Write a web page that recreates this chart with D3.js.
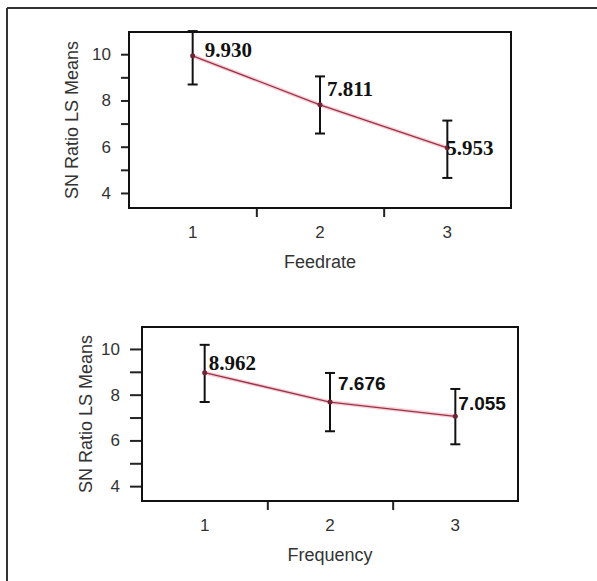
<!DOCTYPE html>
<html>
<head>
<meta charset="utf-8">
<script src="https://cdn.jsdelivr.net/npm/d3@7/dist/d3.min.js"></script>
<style>
  body { margin: 0; background: #fff; }
  svg { display: block; }
</style>
</head>
<body>
<svg id="chart" width="597" height="581"></svg>
<script>
// data
const levels = [1, 2, 3];
const feedrateMeans = [9.930, 7.811, 5.953];
const feedrateLower = [8.69, 6.57, 4.65];
const feedrateUpper = [11.0, 9.04, 7.13];
const frequencyMeans = [8.962, 7.676, 7.055];
const frequencyLower = [7.68, 6.40, 5.83];
const frequencyUpper = [10.18, 8.95, 8.25];
const yTicks = [4, 6, 8, 10];
const yMinorTicks = [5, 7, 9];
const xTicks = [1.5, 2.5];
const yTitle = "SN Ratio LS Means";

const svg = d3.select("#chart");
const sans = "Arial, 'Liberation Sans', sans-serif";

// outer frame (only top and left edge show in the picture)
svg.append("line").attr("x1", 7).attr("x2", 597).attr("y1", 8).attr("y2", 8)
  .attr("stroke", "#333").attr("stroke-width", 2);
svg.append("line").attr("x1", 7).attr("x2", 7).attr("y1", 8).attr("y2", 581)
  .attr("stroke", "#333").attr("stroke-width", 2);

const panels = [
  {
    title: "Feedrate", means: feedrateMeans, lower: feedrateLower, upper: feedrateUpper,
    left: 129, right: 511, top: 32, bottom: 208, tick: 8, yTitleX: 72,
    labelDx: [12, 7, -1], labelDy: [1, -9, 7],
    labelFont: ["Liberation Serif", "Liberation Serif", "Liberation Serif"], labelSize: [21, 21, 21]
  },
  {
    title: "Frequency", means: frequencyMeans, lower: frequencyLower, upper: frequencyUpper,
    left: 142, right: 518, top: 327, bottom: 501, tick: 12, yTitleX: 86,
    labelDx: [4, 8, 3], labelDy: [-3, -12, -6],
    labelFont: ["Liberation Serif", "Liberation Sans", "Liberation Sans"], labelSize: [21, 19, 19]
  }
];

panels.forEach(p => {
  const x = d3.scaleLinear().domain([0.5, 3.5]).range([p.left, p.right]);
  const y = d3.scaleLinear().domain([3.35, 10.96]).range([p.bottom, p.top]);
  const g = svg.append("g");

  // y axis: labelled majors plus unlabelled minors
  const yAxis = d3.axisLeft(y).tickValues(yTicks.concat(yMinorTicks))
    .tickSize(p.tick).tickPadding(10)
    .tickFormat(d => yTicks.includes(d) ? d : "");
  const ya = g.append("g").attr("transform", `translate(${p.left},0)`).call(yAxis);
  ya.select(".domain").remove();
  ya.selectAll("line").attr("stroke", "#222").attr("stroke-width", 2);
  ya.selectAll("text").attr("font-family", sans).attr("font-size", 17).attr("fill", "#333");

  // x axis: ticks between levels, labels at the levels
  const xAxis = d3.axisBottom(x).tickValues(xTicks).tickSize(9).tickFormat("");
  const xa = g.append("g").attr("transform", `translate(0,${p.bottom})`).call(xAxis);
  xa.select(".domain").remove();
  xa.selectAll("line").attr("stroke", "#222").attr("stroke-width", 2);

  g.selectAll(".xlab").data(levels).join("text")
    .attr("x", d => x(d)).attr("y", p.bottom + 24).attr("dy", "0.35em")
    .attr("text-anchor", "middle")
    .attr("font-family", sans).attr("font-size", 17).attr("fill", "#333")
    .text(d => d);

  // frame
  g.append("rect").attr("x", p.left).attr("y", p.top)
    .attr("width", p.right - p.left).attr("height", p.bottom - p.top)
    .attr("fill", "none").attr("stroke", "#111").attr("stroke-width", 2);

  // axis titles
  g.append("text").attr("x", x(2)).attr("y", p.bottom + 54).attr("dy", "0.35em")
    .attr("text-anchor", "middle")
    .attr("font-family", sans).attr("font-size", 18).attr("fill", "#333").text(p.title);
  g.append("text")
    .attr("transform", `translate(${p.yTitleX},${(p.top + p.bottom) / 2}) rotate(-90)`)
    .attr("dy", "0.35em").attr("text-anchor", "middle")
    .attr("font-family", sans).attr("font-size", 18).attr("fill", "#333").text(yTitle);

  // mean line
  const line = d3.line().x((d, i) => x(levels[i])).y(d => y(d));
  g.append("path").datum(p.means).attr("d", line)
    .attr("fill", "none").attr("stroke", "#f6d0d7").attr("stroke-width", 4);
  g.append("path").datum(p.means).attr("d", line)
    .attr("fill", "none").attr("stroke", "#9a3348").attr("stroke-width", 1.3);

  // error bars
  levels.forEach((lv, i) => {
    const cx = x(lv);
    const eb = g.append("g").attr("stroke", "#111").attr("stroke-width", 2);
    eb.append("line").attr("x1", cx).attr("x2", cx).attr("y1", y(p.lower[i])).attr("y2", y(p.upper[i]));
    eb.append("line").attr("x1", cx - 5).attr("x2", cx + 5).attr("y1", y(p.lower[i])).attr("y2", y(p.lower[i]));
    eb.append("line").attr("x1", cx - 5).attr("x2", cx + 5).attr("y1", y(p.upper[i])).attr("y2", y(p.upper[i]));
    g.append("circle").attr("cx", cx).attr("cy", y(p.means[i])).attr("r", 2.5).attr("fill", "#6e2434");
  });

  // value labels
  g.selectAll(".vlab").data(p.means).join("text")
    .attr("x", (d, i) => x(levels[i]) + p.labelDx[i])
    .attr("y", (d, i) => y(d) + p.labelDy[i])
    .attr("font-family", (d, i) => p.labelFont[i])
    .attr("font-weight", "bold")
    .attr("font-size", (d, i) => p.labelSize[i])
    .attr("fill", "#111")
    .text(d => d.toFixed(3));
});
</script>
</body>
</html>
